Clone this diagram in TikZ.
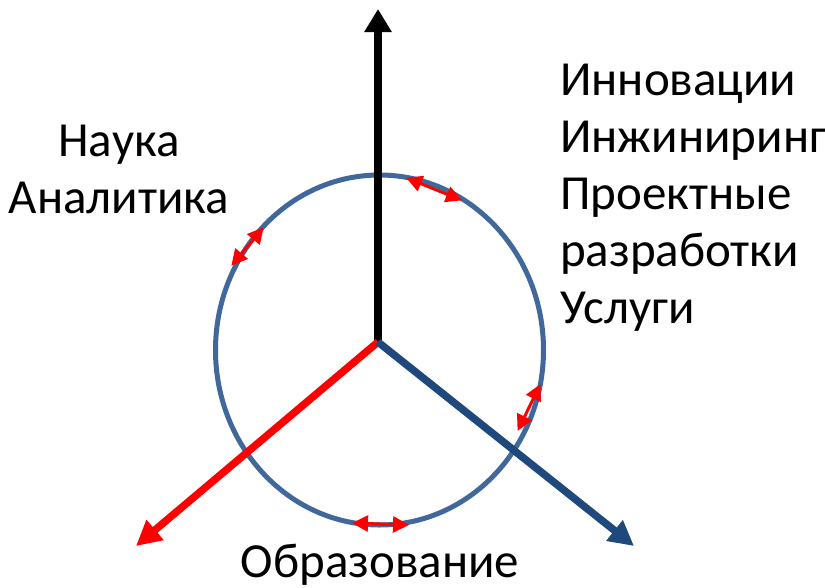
\documentclass[tikz,border=0pt]{standalone}
\usepackage{fontspec}
\setmainfont{Carlito}
\usetikzlibrary{arrows.meta,shapes.geometric}
\definecolor{ringblue}{HTML}{41689A}
\definecolor{axisblue}{HTML}{1F497D}
\tikzset{
  lbl/.style={font=\fontsize{49}{57}\selectfont, inner sep=0pt},
  mini/.style={red, line width=3pt, {Triangle[length=16pt,width=16pt]}-{Triangle[length=16pt,width=16pt]}, shorten <=-1pt, shorten >=-1pt}
}
\begin{document}
\begin{tikzpicture}[x=1pt,y=-1pt]
\useasboundingbox (0,0) rectangle (825,587);
\coordinate (o) at (378,342);
\coordinate (up) at (378,9);
\coordinate (dl) at (136,546);
\coordinate (dr) at (634,546);
\node[draw=ringblue, line width=5pt, ellipse, minimum width=328pt, minimum height=350pt, inner sep=0pt] (ring) at (379.5,350) {};
\draw[line width=8.5pt, black, -{Triangle[length=23pt,width=26pt]}] (o) -- (up);
\draw[line width=7.5pt, red, -{Triangle[length=25pt,width=25pt]}] (o) -- (dl);
\draw[line width=7.5pt, axisblue, -{Triangle[length=25pt,width=25pt]}] (o) -- (dr);
\coordinate (a1) at (407,178); \coordinate (a2) at (461,200);
\coordinate (b1) at (232,265); \coordinate (b2) at (263,228);
\coordinate (c1) at (540,385); \coordinate (c2) at (518,430);
\coordinate (d1) at (353,523); \coordinate (d2) at (408,525);
\draw[mini] (a1) -- (a2);
\draw[mini] (b1) -- (b2);
\draw[mini] (c1) -- (c2);
\draw[mini] (d1) -- (d2);
\node[lbl, align=center] (sci) at (119,169) {Наука\\Аналитика};
\node[lbl, align=left, anchor=north west] (inn) at (560,64) {Инновации\\Инжиниринг\\Проектные\\разработки\\Услуги};
\node[lbl] (edu) at (380,565) {Образование};
\end{tikzpicture}
\end{document}
